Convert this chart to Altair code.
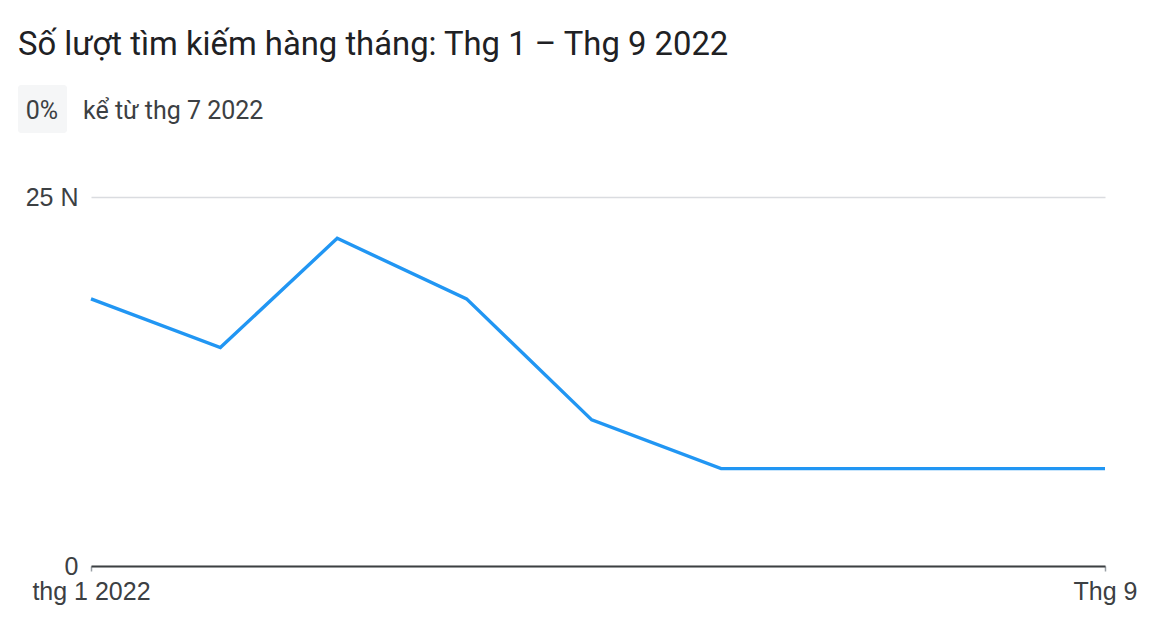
import altair as alt
import pandas as pd

months = ["2022-01-01", "2022-02-01", "2022-03-01", "2022-04-01", "2022-05-01",
          "2022-06-01", "2022-07-01", "2022-08-01", "2022-09-01"]
searches = [18100, 14800, 22200, 18100, 9900, 6600, 6600, 6600, 6600]

title_text = ["Số lượt tìm kiếm hàng tháng: Thg 1 – Thg 9 2022"]
badge_text = ["0%"]
since_text = ["kể từ thg 7 2022"]
y_ticks = [0, 25000]

df = pd.DataFrame({"month": months, "searches": searches})

FONT = "Roboto"
LABEL_FONT = "Liberation Sans"

x_enc = alt.X(
    "month:T",
    scale=alt.Scale(type="utc", nice=False),
    axis=alt.Axis(
        title=None,
        values=[alt.DateTime(year=2022, month=1, date=1, utc=True),
                alt.DateTime(year=2022, month=9, date=1, utc=True)],
        labelExpr="utcmonth(datum.value) == 0 ? 'thg 1 2022' : 'Thg 9'",
        grid=False,
        domainColor="#3c4043",
        domainWidth=2,
        tickColor="#9aa0a6",
        tickSize=5,
        tickWidth=1.5,
        labelFont=LABEL_FONT,
        labelFontSize=25,
        labelColor="#3c4043",
        labelPadding=8,
        labelFlush=False,
        labelOverlap=False,
        labelBound=False,
    ),
)

y_enc = alt.Y(
    "searches:Q",
    scale=alt.Scale(domain=[0, 25000], nice=False),
    axis=alt.Axis(
        title=None,
        values=y_ticks,
        labelExpr="datum.value == 0 ? '0' : '25 N'",
        domain=False,
        ticks=False,
        grid=True,
        gridColor="#dadce0",
        gridWidth=1.5,
        labelFont=LABEL_FONT,
        labelFontSize=25,
        labelColor="#3c4043",
        labelPadding=13,
    ),
)

line = alt.Chart(df).mark_line(color="#2196f3", strokeWidth=3.4, strokeJoin="miter").encode(
    x=x_enc, y=y_enc
)

title = alt.Chart(pd.DataFrame({"t": title_text})).mark_text(
    align="left", baseline="middle", font=FONT, fontSize=32.8, color="#202124"
).encode(x=alt.value(-73), y=alt.value(-152), text="t:N")

badge = alt.Chart(pd.DataFrame({"t": badge_text})).mark_rect(
    color="#f5f6f7", cornerRadius=3
).encode(x=alt.value(-73), x2=alt.value(-24), y=alt.value(-112), y2=alt.value(-64))

badge_label = alt.Chart(pd.DataFrame({"t": badge_text})).mark_text(
    align="center", baseline="middle", font=FONT, fontSize=25, color="#3c4043"
).encode(x=alt.value(-49), y=alt.value(-86), text="t:N")

since = alt.Chart(pd.DataFrame({"t": since_text})).mark_text(
    align="left", baseline="middle", font=FONT, fontSize=25, color="#3c4043"
).encode(x=alt.value(-8), y=alt.value(-86), text="t:N")

chart = alt.layer(line, badge, badge_label, since, title).properties(
    width=1014,
    height=369,
    background="white",
    autosize=alt.AutoSizeParams(type="none"),
    padding={"left": 83, "top": 189, "right": 40, "bottom": 40},
).configure_view(strokeWidth=0)

chart.save("out.html", embed_options={"renderer": "svg", "actions": False})
